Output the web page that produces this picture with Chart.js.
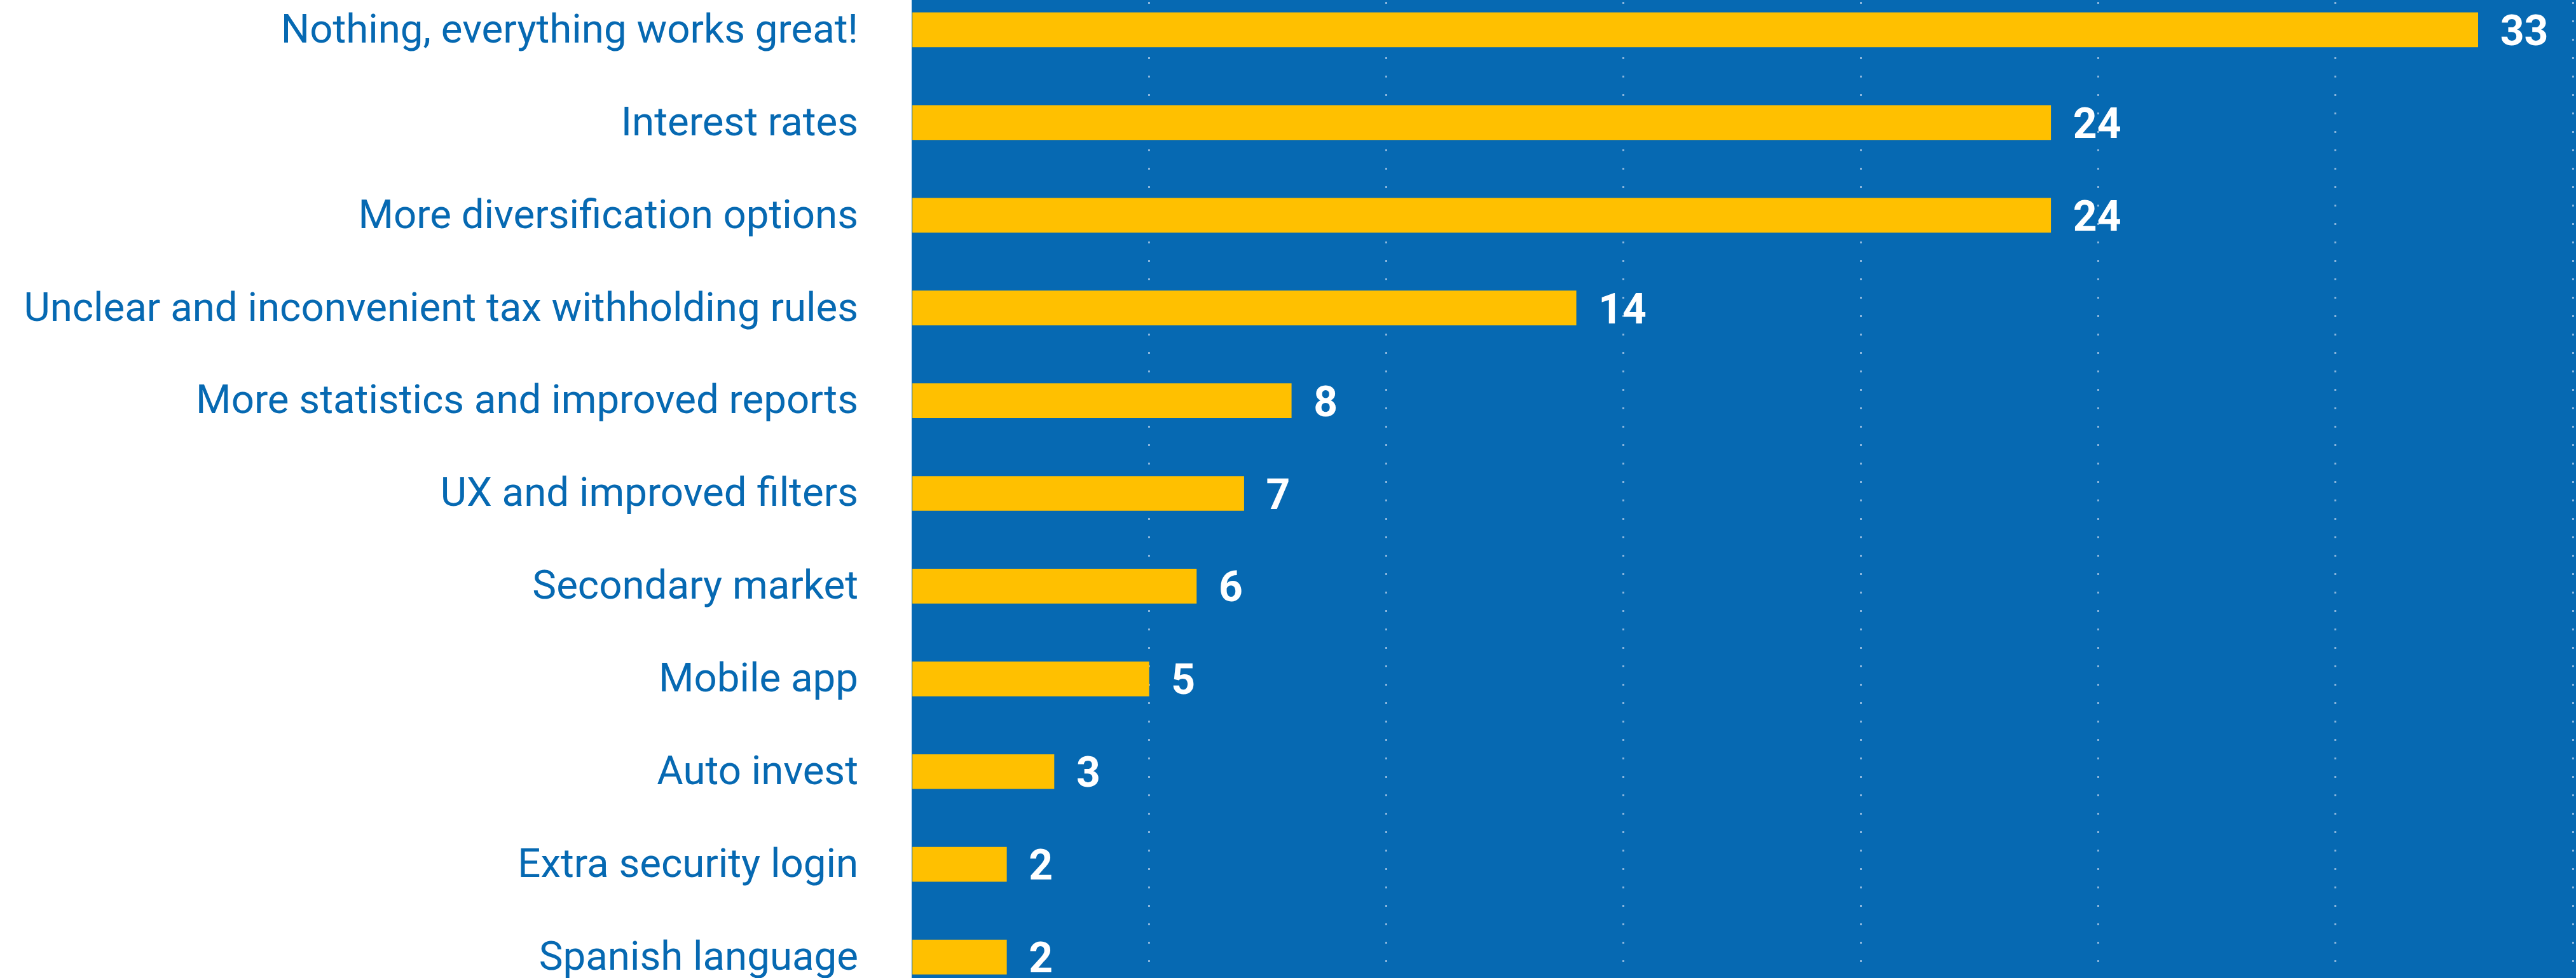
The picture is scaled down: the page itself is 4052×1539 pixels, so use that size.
<!DOCTYPE html>
<html lang="en">
<head>
  <meta charset="UTF-8">
  <title>Improvements wanted</title>
  <style>
    * { margin: 0; padding: 0; box-sizing: border-box; }
    body {
      width: 4052px;
      height: 1539px;
      overflow: hidden;
      background: #ffffff;
      position: relative;
      font-family: Roboto, sans-serif;
    }
    #wrap {
      position: absolute;
      left: 0;
      top: -26px;
      width: 4052px;
      height: 1605px;
    }
  </style>
  <script src="https://cdn.jsdelivr.net/npm/chart.js"></script>
</head>
<body>
  <div id="wrap"><canvas id="barChart"></canvas></div>

  <script>
    const categories = [
      'Nothing, everything works great!',
      'Interest rates',
      'More diversification options',
      'Unclear and inconvenient tax withholding rules',
      'More statistics and improved reports',
      'UX and improved filters',
      'Secondary market',
      'Mobile app',
      'Auto invest',
      'Extra security login',
      'Spanish language'
    ];
    const answers = [33, 24, 24, 14, 8, 7, 6, 5, 3, 2, 2];
    const xMax = 35;
    const xStep = 5;

    const BLUE = '#0669b2';
    const YELLOW = '#ffc000';

    // blue panel behind the plot, full height of the picture
    const panelBg = {
      id: 'panelBg',
      beforeDraw(chart) {
        const ctx = chart.ctx;
        ctx.save();
        ctx.fillStyle = BLUE;
        ctx.fillRect(chart.chartArea.left, 0, chart.width - chart.chartArea.left, chart.height);
        ctx.restore();
      }
    };

    // white numbers right of each bar, digits centred on the bar
    const valueLabels = {
      id: 'valueLabels',
      afterDatasetsDraw(chart) {
        const ctx = chart.ctx;
        const meta = chart.getDatasetMeta(0);
        ctx.save();
        ctx.fillStyle = '#ffffff';
        ctx.font = 'bold 66px Roboto';
        ctx.textAlign = 'left';
        ctx.textBaseline = 'alphabetic';
        meta.data.forEach((bar, i) => {
          const p = bar.getProps(['x', 'y'], true);
          ctx.fillText(String(answers[i]), p.x + 35, p.y + 24);
        });
        ctx.restore();
      }
    };

    const ctx = document.getElementById('barChart').getContext('2d');
    new Chart(ctx, {
      type: 'bar',
      data: {
        labels: categories,
        datasets: [{
          data: answers,
          backgroundColor: YELLOW,
          borderWidth: 0,
          barThickness: 54
        }]
      },
      options: {
        indexAxis: 'y',
        responsive: true,
        maintainAspectRatio: false,
        animation: false,
        layout: { padding: { right: 5 } },
        plugins: {
          legend: { display: false },
          tooltip: { enabled: false }
        },
        scales: {
          x: {
            min: 0,
            max: xMax,
            ticks: { display: false, stepSize: xStep },
            border: { display: false, dash: [3, 26] },
            grid: {
              drawTicks: false,
              lineWidth: 3,
              color: c => c.tick && c.tick.value === 0 ? 'rgba(0,0,0,0)' : 'rgba(170,200,230,0.8)'
            }
          },
          y: {
            afterFit(scale) {
              // labels sit 84px left of the panel; no extra vertical room for them
              scale.width = 1434;
              scale.paddingTop = 0;
              scale.paddingBottom = 0;
            },
            border: { display: false },
            grid: { display: false, drawTicks: false },
            ticks: {
              color: BLUE,
              padding: 84,
              labelOffset: 4,
              font: { family: 'Roboto', size: 63.6 }
            }
          }
        }
      },
      plugins: [panelBg, valueLabels]
    });
  </script>
</body>
</html>
